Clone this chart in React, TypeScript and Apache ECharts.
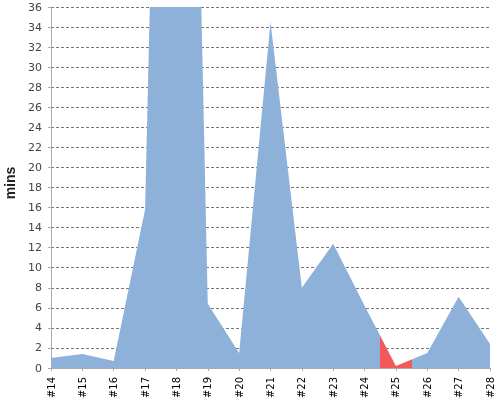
import React, { useEffect, useRef } from "react";
import * as echarts from "echarts";

const weeks = ["#14", "#15", "#16", "#17", "#18", "#19", "#20", "#21", "#22", "#23", "#24", "#25", "#26", "#27", "#28"];
const minutes = [1.0, 1.4, 0.7, 15.8, 150, 6.4, 1.5, 34.5, 8.0, 12.4, 6.2, 0.2, 1.5, 7.1, 2.4];
// x range (in week index units) drawn in red, around #25
const highlightFrom = 10.5;
const highlightTo = 11.5;

const BLUE = "#8eb1da";
const RED = "#f25a5a";

const App: React.FC = () => {
  const chartRef = useRef<HTMLDivElement>(null);

  useEffect(() => {
    if (!chartRef.current) return;
    const chart = echarts.init(chartRef.current, null, { renderer: "svg" });

    chart.setOption({
      animation: false,
      textStyle: { fontFamily: "DejaVu Sans" },
      grid: {
        left: 51,
        right: 10,
        top: 7,
        bottom: 32,
        containLabel: false,
        outerBoundsMode: "none",
      },
      visualMap: {
        show: false,
        dimension: 0,
        pieces: [
          { lte: highlightFrom, color: BLUE },
          { gt: highlightFrom, lte: highlightTo, color: RED },
          { gt: highlightTo, color: BLUE },
        ],
      },
      xAxis: {
        type: "value",
        min: 0,
        max: weeks.length - 1,
        interval: 1,
        offset: 3,
        axisLine: { lineStyle: { color: "#aaa", width: 1 } },
        axisTick: { show: true, length: 3, lineStyle: { color: "#aaa" } },
        axisLabel: {
          rotate: 90,
          fontSize: 10,
          color: "#000",
          margin: 6,
          formatter: (v: number) => weeks[v] ?? "",
        },
        splitLine: { show: false },
      },
      yAxis: {
        type: "value",
        name: "mins",
        nameLocation: "middle",
        nameGap: 29,
        nameRotate: 90,
        nameTextStyle: {
          fontSize: 14,
          fontWeight: "bold",
          fontFamily: "'Liberation Sans Narrow', 'Liberation Sans'",
          color: "#222",
          padding: [0, 0, 0, 9],
        },
        min: 0,
        max: 36,
        interval: 2,
        offset: 3,
        axisLine: { show: true, lineStyle: { color: "#aaa", width: 1 } },
        axisTick: { show: true, length: 3, lineStyle: { color: "#aaa" } },
        axisLabel: { fontSize: 11, color: "#444", margin: 6 },
        splitLine: {
          lineStyle: { color: "#777", type: [3, 2], width: 1 },
        },
      },
      series: [
        {
          type: "line",
          data: minutes.map((m, i) => [i, m]),
          symbol: "none",
          lineStyle: { width: 0, opacity: 0 },
          areaStyle: { opacity: 1 },
        },
      ],
    });

    return () => chart.dispose();
  }, []);

  return (
    <div
      ref={chartRef}
      style={{ position: "fixed", left: 0, top: 0, width: "500px", height: "400px" }}
    />
  );
};

export default App;
